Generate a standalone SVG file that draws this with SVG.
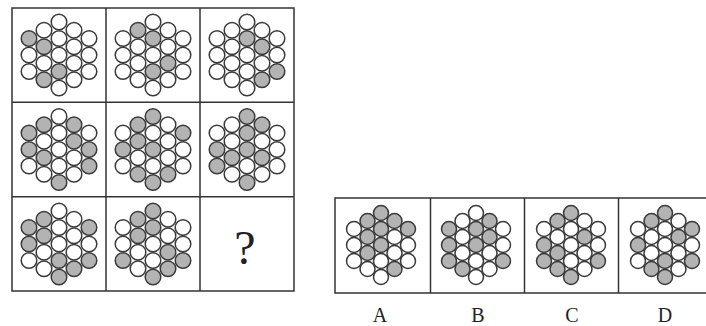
<svg xmlns="http://www.w3.org/2000/svg" width="706" height="326" viewBox="0 0 706 326">
<style>
.frame{fill:none;stroke:#333;stroke-width:1.5}
circle{stroke:#3a3a3a;stroke-width:1.5}
.w{fill:#fff}
.g{fill:#b3b3b3}
.lbl{font-family:"Liberation Serif","Times New Roman",serif;fill:#222;text-anchor:middle}
</style>
<rect width="706" height="326" fill="#fff"/>
<g id="grid">
<rect class="frame" x="12" y="8" width="282" height="283"/>
<line class="frame" x1="106" y1="8" x2="106" y2="291"/>
<line class="frame" x1="200" y1="8" x2="200" y2="291"/>
<line class="frame" x1="12" y1="102.3" x2="294" y2="102.3"/>
<line class="frame" x1="12" y1="196.7" x2="294" y2="196.7"/>
</g>
<g id="options-frame">
<rect class="frame" x="335" y="198" width="377" height="95"/>
<line class="frame" x1="430.5" y1="198" x2="430.5" y2="293"/>
<line class="frame" x1="524.5" y1="198" x2="524.5" y2="293"/>
<line class="frame" x1="618.5" y1="198" x2="618.5" y2="293"/>
</g>
<g id="cell1" transform="translate(59,55)">
<circle class="g" cx="-30" cy="-16.5" r="7.8"/><circle class="w" cx="-30" cy="0" r="7.8"/><circle class="w" cx="-30" cy="16.5" r="7.8"/>
<circle class="w" cx="-15" cy="-24.75" r="7.8"/><circle class="g" cx="-15" cy="-8.25" r="7.8"/><circle class="w" cx="-15" cy="8.25" r="7.8"/><circle class="g" cx="-15" cy="24.75" r="7.8"/>
<circle class="w" cx="0" cy="-33" r="7.8"/><circle class="w" cx="0" cy="-16.5" r="7.8"/><circle class="w" cx="0" cy="0" r="7.8"/><circle class="g" cx="0" cy="16.5" r="7.8"/><circle class="w" cx="0" cy="33" r="7.8"/>
<circle class="w" cx="15" cy="-24.75" r="7.8"/><circle class="w" cx="15" cy="-8.25" r="7.8"/><circle class="w" cx="15" cy="8.25" r="7.8"/><circle class="w" cx="15" cy="24.75" r="7.8"/>
<circle class="w" cx="30" cy="-16.5" r="7.8"/><circle class="w" cx="30" cy="0" r="7.8"/><circle class="w" cx="30" cy="16.5" r="7.8"/>
</g>
<g id="cell2" transform="translate(153,55)">
<circle class="w" cx="-30" cy="-16.5" r="7.8"/><circle class="w" cx="-30" cy="0" r="7.8"/><circle class="w" cx="-30" cy="16.5" r="7.8"/>
<circle class="g" cx="-15" cy="-24.75" r="7.8"/><circle class="w" cx="-15" cy="-8.25" r="7.8"/><circle class="w" cx="-15" cy="8.25" r="7.8"/><circle class="w" cx="-15" cy="24.75" r="7.8"/>
<circle class="w" cx="0" cy="-33" r="7.8"/><circle class="g" cx="0" cy="-16.5" r="7.8"/><circle class="w" cx="0" cy="0" r="7.8"/><circle class="g" cx="0" cy="16.5" r="7.8"/><circle class="w" cx="0" cy="33" r="7.8"/>
<circle class="w" cx="15" cy="-24.75" r="7.8"/><circle class="w" cx="15" cy="-8.25" r="7.8"/><circle class="g" cx="15" cy="8.25" r="7.8"/><circle class="w" cx="15" cy="24.75" r="7.8"/>
<circle class="w" cx="30" cy="-16.5" r="7.8"/><circle class="w" cx="30" cy="0" r="7.8"/><circle class="w" cx="30" cy="16.5" r="7.8"/>
</g>
<g id="cell3" transform="translate(247,55)">
<circle class="w" cx="-30" cy="-16.5" r="7.8"/><circle class="w" cx="-30" cy="0" r="7.8"/><circle class="w" cx="-30" cy="16.5" r="7.8"/>
<circle class="w" cx="-15" cy="-24.75" r="7.8"/><circle class="w" cx="-15" cy="-8.25" r="7.8"/><circle class="w" cx="-15" cy="8.25" r="7.8"/><circle class="w" cx="-15" cy="24.75" r="7.8"/>
<circle class="w" cx="0" cy="-33" r="7.8"/><circle class="g" cx="0" cy="-16.5" r="7.8"/><circle class="w" cx="0" cy="0" r="7.8"/><circle class="w" cx="0" cy="16.5" r="7.8"/><circle class="w" cx="0" cy="33" r="7.8"/>
<circle class="w" cx="15" cy="-24.75" r="7.8"/><circle class="g" cx="15" cy="-8.25" r="7.8"/><circle class="w" cx="15" cy="8.25" r="7.8"/><circle class="g" cx="15" cy="24.75" r="7.8"/>
<circle class="w" cx="30" cy="-16.5" r="7.8"/><circle class="w" cx="30" cy="0" r="7.8"/><circle class="g" cx="30" cy="16.5" r="7.8"/>
</g>
<g id="cell4" transform="translate(59,149.5)">
<circle class="g" cx="-30" cy="-16.5" r="7.8"/><circle class="g" cx="-30" cy="0" r="7.8"/><circle class="w" cx="-30" cy="16.5" r="7.8"/>
<circle class="g" cx="-15" cy="-24.75" r="7.8"/><circle class="w" cx="-15" cy="-8.25" r="7.8"/><circle class="g" cx="-15" cy="8.25" r="7.8"/><circle class="w" cx="-15" cy="24.75" r="7.8"/>
<circle class="w" cx="0" cy="-33" r="7.8"/><circle class="w" cx="0" cy="-16.5" r="7.8"/><circle class="w" cx="0" cy="0" r="7.8"/><circle class="w" cx="0" cy="16.5" r="7.8"/><circle class="g" cx="0" cy="33" r="7.8"/>
<circle class="g" cx="15" cy="-24.75" r="7.8"/><circle class="g" cx="15" cy="-8.25" r="7.8"/><circle class="w" cx="15" cy="8.25" r="7.8"/><circle class="w" cx="15" cy="24.75" r="7.8"/>
<circle class="w" cx="30" cy="-16.5" r="7.8"/><circle class="g" cx="30" cy="0" r="7.8"/><circle class="g" cx="30" cy="16.5" r="7.8"/>
</g>
<g id="cell5" transform="translate(153,149.5)">
<circle class="w" cx="-30" cy="-16.5" r="7.8"/><circle class="g" cx="-30" cy="0" r="7.8"/><circle class="w" cx="-30" cy="16.5" r="7.8"/>
<circle class="g" cx="-15" cy="-24.75" r="7.8"/><circle class="g" cx="-15" cy="-8.25" r="7.8"/><circle class="w" cx="-15" cy="8.25" r="7.8"/><circle class="g" cx="-15" cy="24.75" r="7.8"/>
<circle class="g" cx="0" cy="-33" r="7.8"/><circle class="w" cx="0" cy="-16.5" r="7.8"/><circle class="g" cx="0" cy="0" r="7.8"/><circle class="w" cx="0" cy="16.5" r="7.8"/><circle class="g" cx="0" cy="33" r="7.8"/>
<circle class="w" cx="15" cy="-24.75" r="7.8"/><circle class="w" cx="15" cy="-8.25" r="7.8"/><circle class="w" cx="15" cy="8.25" r="7.8"/><circle class="g" cx="15" cy="24.75" r="7.8"/>
<circle class="g" cx="30" cy="-16.5" r="7.8"/><circle class="w" cx="30" cy="0" r="7.8"/><circle class="w" cx="30" cy="16.5" r="7.8"/>
</g>
<g id="cell6" transform="translate(247,149.5)">
<circle class="w" cx="-30" cy="-16.5" r="7.8"/><circle class="g" cx="-30" cy="0" r="7.8"/><circle class="g" cx="-30" cy="16.5" r="7.8"/>
<circle class="w" cx="-15" cy="-24.75" r="7.8"/><circle class="w" cx="-15" cy="-8.25" r="7.8"/><circle class="g" cx="-15" cy="8.25" r="7.8"/><circle class="w" cx="-15" cy="24.75" r="7.8"/>
<circle class="g" cx="0" cy="-33" r="7.8"/><circle class="g" cx="0" cy="-16.5" r="7.8"/><circle class="g" cx="0" cy="0" r="7.8"/><circle class="w" cx="0" cy="16.5" r="7.8"/><circle class="g" cx="0" cy="33" r="7.8"/>
<circle class="g" cx="15" cy="-24.75" r="7.8"/><circle class="w" cx="15" cy="-8.25" r="7.8"/><circle class="g" cx="15" cy="8.25" r="7.8"/><circle class="w" cx="15" cy="24.75" r="7.8"/>
<circle class="w" cx="30" cy="-16.5" r="7.8"/><circle class="w" cx="30" cy="0" r="7.8"/><circle class="w" cx="30" cy="16.5" r="7.8"/>
</g>
<g id="cell7" transform="translate(59,244)">
<circle class="g" cx="-30" cy="-16.5" r="7.8"/><circle class="g" cx="-30" cy="0" r="7.8"/><circle class="w" cx="-30" cy="16.5" r="7.8"/>
<circle class="g" cx="-15" cy="-24.75" r="7.8"/><circle class="g" cx="-15" cy="-8.25" r="7.8"/><circle class="w" cx="-15" cy="8.25" r="7.8"/><circle class="w" cx="-15" cy="24.75" r="7.8"/>
<circle class="w" cx="0" cy="-33" r="7.8"/><circle class="w" cx="0" cy="-16.5" r="7.8"/><circle class="w" cx="0" cy="0" r="7.8"/><circle class="g" cx="0" cy="16.5" r="7.8"/><circle class="g" cx="0" cy="33" r="7.8"/>
<circle class="w" cx="15" cy="-24.75" r="7.8"/><circle class="w" cx="15" cy="-8.25" r="7.8"/><circle class="w" cx="15" cy="8.25" r="7.8"/><circle class="g" cx="15" cy="24.75" r="7.8"/>
<circle class="g" cx="30" cy="-16.5" r="7.8"/><circle class="w" cx="30" cy="0" r="7.8"/><circle class="g" cx="30" cy="16.5" r="7.8"/>
</g>
<g id="cell8" transform="translate(153,244)">
<circle class="w" cx="-30" cy="-16.5" r="7.8"/><circle class="w" cx="-30" cy="0" r="7.8"/><circle class="g" cx="-30" cy="16.5" r="7.8"/>
<circle class="g" cx="-15" cy="-24.75" r="7.8"/><circle class="g" cx="-15" cy="-8.25" r="7.8"/><circle class="w" cx="-15" cy="8.25" r="7.8"/><circle class="w" cx="-15" cy="24.75" r="7.8"/>
<circle class="g" cx="0" cy="-33" r="7.8"/><circle class="g" cx="0" cy="-16.5" r="7.8"/><circle class="w" cx="0" cy="0" r="7.8"/><circle class="w" cx="0" cy="16.5" r="7.8"/><circle class="g" cx="0" cy="33" r="7.8"/>
<circle class="w" cx="15" cy="-24.75" r="7.8"/><circle class="w" cx="15" cy="-8.25" r="7.8"/><circle class="g" cx="15" cy="8.25" r="7.8"/><circle class="g" cx="15" cy="24.75" r="7.8"/>
<circle class="w" cx="30" cy="-16.5" r="7.8"/><circle class="w" cx="30" cy="0" r="7.8"/><circle class="g" cx="30" cy="16.5" r="7.8"/>
</g>
<g id="cell9">
<text class="lbl" x="245" y="264" font-size="48" fill="#333">?</text>
</g>
<g id="optA" transform="translate(381,245)">
<circle class="w" cx="-27" cy="-16" r="7.5"/><circle class="w" cx="-27" cy="0" r="7.5"/><circle class="w" cx="-27" cy="16" r="7.5"/>
<circle class="g" cx="-13.5" cy="-24" r="7.5"/><circle class="g" cx="-13.5" cy="-8" r="7.5"/><circle class="g" cx="-13.5" cy="8" r="7.5"/><circle class="w" cx="-13.5" cy="24" r="7.5"/>
<circle class="g" cx="0" cy="-32" r="7.5"/><circle class="g" cx="0" cy="-16" r="7.5"/><circle class="g" cx="0" cy="0" r="7.5"/><circle class="w" cx="0" cy="16" r="7.5"/><circle class="w" cx="0" cy="32" r="7.5"/>
<circle class="g" cx="13.5" cy="-24" r="7.5"/><circle class="w" cx="13.5" cy="-8" r="7.5"/><circle class="w" cx="13.5" cy="8" r="7.5"/><circle class="g" cx="13.5" cy="24" r="7.5"/>
<circle class="g" cx="27" cy="-16" r="7.5"/><circle class="w" cx="27" cy="0" r="7.5"/><circle class="w" cx="27" cy="16" r="7.5"/>
</g>
<g id="optB" transform="translate(476,245)">
<circle class="g" cx="-27" cy="-16" r="7.5"/><circle class="g" cx="-27" cy="0" r="7.5"/><circle class="g" cx="-27" cy="16" r="7.5"/>
<circle class="w" cx="-13.5" cy="-24" r="7.5"/><circle class="w" cx="-13.5" cy="-8" r="7.5"/><circle class="w" cx="-13.5" cy="8" r="7.5"/><circle class="g" cx="-13.5" cy="24" r="7.5"/>
<circle class="w" cx="0" cy="-32" r="7.5"/><circle class="g" cx="0" cy="-16" r="7.5"/><circle class="g" cx="0" cy="0" r="7.5"/><circle class="w" cx="0" cy="16" r="7.5"/><circle class="w" cx="0" cy="32" r="7.5"/>
<circle class="g" cx="13.5" cy="-24" r="7.5"/><circle class="g" cx="13.5" cy="-8" r="7.5"/><circle class="w" cx="13.5" cy="8" r="7.5"/><circle class="w" cx="13.5" cy="24" r="7.5"/>
<circle class="w" cx="27" cy="-16" r="7.5"/><circle class="w" cx="27" cy="0" r="7.5"/><circle class="g" cx="27" cy="16" r="7.5"/>
</g>
<g id="optC" transform="translate(571,245)">
<circle class="w" cx="-27" cy="-16" r="7.5"/><circle class="g" cx="-27" cy="0" r="7.5"/><circle class="g" cx="-27" cy="16" r="7.5"/>
<circle class="g" cx="-13.5" cy="-24" r="7.5"/><circle class="w" cx="-13.5" cy="-8" r="7.5"/><circle class="g" cx="-13.5" cy="8" r="7.5"/><circle class="g" cx="-13.5" cy="24" r="7.5"/>
<circle class="g" cx="0" cy="-32" r="7.5"/><circle class="w" cx="0" cy="-16" r="7.5"/><circle class="w" cx="0" cy="0" r="7.5"/><circle class="w" cx="0" cy="16" r="7.5"/><circle class="g" cx="0" cy="32" r="7.5"/>
<circle class="w" cx="13.5" cy="-24" r="7.5"/><circle class="g" cx="13.5" cy="-8" r="7.5"/><circle class="w" cx="13.5" cy="8" r="7.5"/><circle class="w" cx="13.5" cy="24" r="7.5"/>
<circle class="w" cx="27" cy="-16" r="7.5"/><circle class="w" cx="27" cy="0" r="7.5"/><circle class="g" cx="27" cy="16" r="7.5"/>
</g>
<g id="optD" transform="translate(665,245)">
<circle class="w" cx="-27" cy="-16" r="7.5"/><circle class="g" cx="-27" cy="0" r="7.5"/><circle class="w" cx="-27" cy="16" r="7.5"/>
<circle class="g" cx="-13.5" cy="-24" r="7.5"/><circle class="w" cx="-13.5" cy="-8" r="7.5"/><circle class="w" cx="-13.5" cy="8" r="7.5"/><circle class="g" cx="-13.5" cy="24" r="7.5"/>
<circle class="g" cx="0" cy="-32" r="7.5"/><circle class="w" cx="0" cy="-16" r="7.5"/><circle class="w" cx="0" cy="0" r="7.5"/><circle class="g" cx="0" cy="16" r="7.5"/><circle class="g" cx="0" cy="32" r="7.5"/>
<circle class="w" cx="13.5" cy="-24" r="7.5"/><circle class="g" cx="13.5" cy="-8" r="7.5"/><circle class="w" cx="13.5" cy="8" r="7.5"/><circle class="w" cx="13.5" cy="24" r="7.5"/>
<circle class="g" cx="27" cy="-16" r="7.5"/><circle class="w" cx="27" cy="0" r="7.5"/><circle class="g" cx="27" cy="16" r="7.5"/>
</g>
<g id="labels">
<text class="lbl" x="380" y="322" font-size="20">A</text>
<text class="lbl" x="478" y="322" font-size="20">B</text>
<text class="lbl" x="572" y="322" font-size="20">C</text>
<text class="lbl" x="665" y="322" font-size="20">D</text>
</g>
</svg>
